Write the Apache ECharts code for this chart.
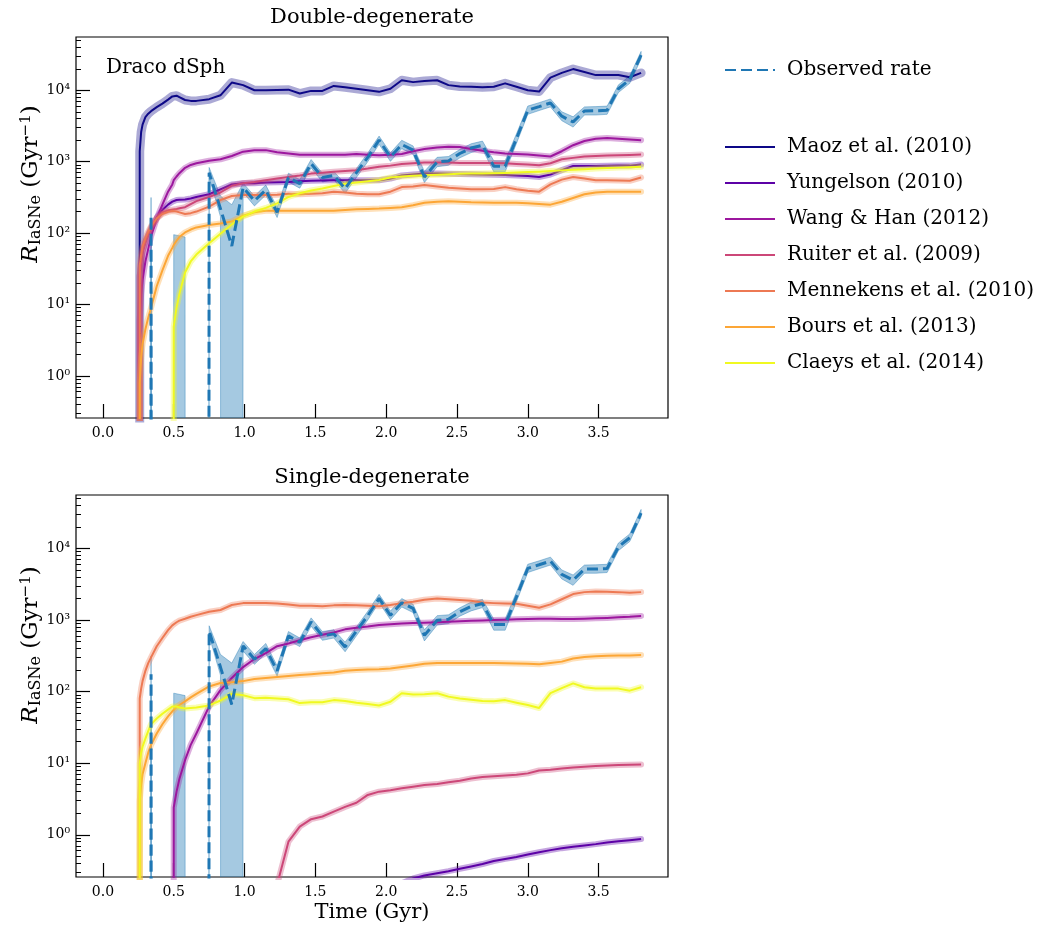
<!DOCTYPE html>
<html><head><meta charset="utf-8">
<script src="https://cdn.jsdelivr.net/npm/echarts@6/dist/echarts.min.js"></script>
<style>html,body{margin:0;padding:0;background:#fff}#c{width:1039px;height:930px}</style>
</head><body><div id="c"></div>
<script>
// ---------------- DATA ----------------
const xTicks = [0, 0.5, 1.0, 1.5, 2.0, 2.5, 3.0, 3.5];
const xTickLabels = ['0.0', '0.5', '1.0', '1.5', '2.0', '2.5', '3.0', '3.5'];
const yMajor = [1, 10, 100, 1000, 10000];
const yTickLabels = ['10⁰', '10¹', '10²', '10³', '10⁴'];
const yMinor = [0.3,0.4,0.5,0.6,0.7,0.8,0.9, 2,3,4,5,6,7,8,9, 20,30,40,50,60,70,80,90,
  200,300,400,500,600,700,800,900, 2000,3000,4000,5000,6000,7000,8000,9000, 20000,30000,40000,50000];

const modelNames = ['Maoz et al. (2010)', 'Yungelson (2010)', 'Wang & Han (2012)', 'Ruiter et al. (2009)',
  'Mennekens et al. (2010)', 'Bours et al. (2013)', 'Claeys et al. (2014)'];
const obsName = 'Observed rate';
const panelTitles = ['Double-degenerate', 'Single-degenerate'];
const xTitle = 'Time (Gyr)';
const galaxyLabel = 'Draco dSph';

// observed rate (time grid in Gyr)
const obsTime = [
  0.26, 0.34, 0.42, 0.50, 0.58, 0.66, 0.75, 0.83, 0.91, 0.99,
  1.07, 1.15, 1.23, 1.31, 1.39, 1.47, 1.55, 1.63, 1.71, 1.79,
  1.87, 1.95, 2.03, 2.11, 2.19, 2.27, 2.36, 2.44, 2.52, 2.60,
  2.68, 2.76, 2.84, 2.92, 3.00, 3.08, 3.16, 3.24, 3.32, 3.40,
  3.48, 3.56, 3.64, 3.72, 3.80];
const obsRate = [
  0, 175, 0, 0, 0, 0, 700, 220, 66, 435,
  283, 400, 195, 600, 490, 940, 600, 640, 420, 700,
  1150, 2000, 1160, 1740, 1450, 610, 990, 1025, 1300, 1550,
  1700, 863, 863, 2100, 5250, 5900, 6640, 4330, 3600, 5130,
  5150, 5250, 10500, 14100, 31000];
const obsLo = [
  0, 100, 0, 0, 0, 0, 600, 170, 0, 370,
  240, 340, 165, 520, 425, 820, 520, 560, 360, 600,
  1000, 1750, 1010, 1520, 1270, 510, 850, 890, 1130, 1340,
  1490, 720, 720, 1800, 4600, 5200, 5850, 3750, 3050, 4500,
  4500, 4600, 9300, 12500, 27500];
const obsHi = [
  0, 315, 0, 95, 88, 0, 830, 330, 250, 500,
  330, 470, 230, 690, 560, 1070, 690, 730, 490, 800,
  1320, 2280, 1330, 1990, 1660, 730, 1150, 1180, 1480, 1780,
  1940, 1030, 1030, 2450, 6000, 6700, 7550, 5000, 4250, 5850,
  5900, 6000, 11900, 15900, 35000];

// model time grid (Gyr)
const modelTime = [
  0.25, 0.26, 0.27, 0.28, 0.30, 0.32, 0.34, 0.38, 0.42, 0.46, 0.49, 0.50, 0.52, 0.54, 0.58, 0.62, 0.66,
  0.75, 0.83, 0.91, 0.99, 1.07, 1.15, 1.23, 1.31, 1.39, 1.47,
  1.55, 1.63, 1.71, 1.79, 1.87, 1.95, 2.03, 2.11, 2.19, 2.27,
  2.36, 2.44, 2.52, 2.60, 2.68, 2.76, 2.84, 2.92, 3.00, 3.08,
  3.16, 3.24, 3.32, 3.40, 3.48, 3.56, 3.64, 3.72, 3.80];

// Double-degenerate models
const ddMaoz = [
  0, 1400, 2600, 3300, 4200, 4700, 5100, 5800, 6500, 7400, 8200, 8500, 8400, 8000, 7300, 7100, 7100,
  7500, 8500, 12800, 11800, 10000, 10000, 10100, 10200, 9000, 9800,
  9800, 11500, 11000, 10500, 10000, 9500, 10500, 13800, 13000, 13500,
  13800, 11800, 11300, 11200, 11000, 11200, 12500, 11200, 10000, 9600,
  15000, 17500, 19800, 18000, 16300, 16300, 16300, 15200, 17500];
const ddYung = [
  0, 25, 40, 55, 75, 95, 115, 165, 210, 250, 275, 285, 290, 292, 295, 305, 320,
  350, 410, 480, 500, 500, 510, 515, 520, 530, 540,
  545, 550, 550, 550, 550, 550, 580, 640, 660, 680,
  680, 675, 670, 665, 660, 655, 650, 640, 630, 610,
  660, 760, 870, 870, 870, 875, 880, 880, 910];
const ddWang = [
  0, 6, 14, 22, 40, 60, 90, 160, 250, 380, 480, 550, 620, 690, 820, 900, 950,
  1030, 1080, 1200, 1380, 1450, 1450, 1350, 1300, 1250, 1250,
  1250, 1250, 1250, 1280, 1250, 1230, 1250, 1280, 1400, 1500,
  1580, 1620, 1600, 1500, 1420, 1350, 1300, 1280, 1260, 1220,
  1180, 1400, 1700, 1950, 2100, 2150, 2100, 2050, 2000];
const ddRuit = [
  0, 25, 40, 55, 75, 95, 120, 160, 195, 208, 213, 215, 218, 222, 230, 255, 280,
  320, 370, 460, 500, 520, 550, 580, 610, 640, 680,
  700, 720, 740, 760, 800, 850, 880, 930, 950, 970,
  970, 970, 960, 960, 960, 955, 950, 930, 910, 890,
  950, 1080, 1130, 1180, 1200, 1220, 1230, 1240, 1260];
const ddMenn = [
  0, 35, 50, 65, 85, 105, 125, 160, 185, 198, 203, 205, 200, 195, 185, 190, 200,
  235, 290, 330, 340, 340, 340, 345, 355, 350, 355,
  360, 380, 370, 355, 350, 350, 380, 440, 450, 470,
  450, 430, 420, 410, 410, 415, 440, 410, 390, 380,
  480, 560, 610, 580, 550, 550, 545, 540, 600];
const ddBours = [
  0, 0.8, 1.8, 2.8, 4.5, 6.5, 9, 18, 30, 48, 62, 68, 78, 88, 102, 112, 120,
  130, 136, 145, 175, 195, 205, 205, 205, 205, 205,
  205, 205, 210, 215, 218, 220, 225, 230, 245, 265,
  275, 278, 275, 270, 268, 265, 265, 265, 262, 255,
  250, 275, 310, 350, 370, 378, 380, 380, 380];
const ddClaeys = [
  0, 0, 0, 0, 0, 0, 0, 0, 0, 0, 0, 4.9, 9, 14, 28, 40, 50,
  72, 98, 132, 170, 200, 225, 260, 320, 360, 395,
  420, 455, 490, 510, 530, 555, 600, 620, 635, 645,
  655, 665, 675, 680, 685, 690, 695, 705, 715, 725,
  740, 755, 770, 785, 800, 815, 825, 835, 850];

// Single-degenerate models (no Maoz curve is visible in this panel)
const sdMaoz = null;
const sdYung = [
  0, 0, 0, 0, 0, 0, 0, 0, 0, 0, 0, 0, 0, 0, 0, 0, 0,
  0, 0, 0, 0.01, 0.015, 0.02, 0.03, 0.04, 0.05, 0.06,
  0.07, 0.08, 0.09, 0.11, 0.13, 0.15, 0.18, 0.21, 0.245, 0.27,
  0.29, 0.31, 0.335, 0.36, 0.39, 0.43, 0.46, 0.49, 0.53, 0.57,
  0.61, 0.65, 0.68, 0.71, 0.74, 0.78, 0.81, 0.84, 0.87];
const sdWang = [
  0, 0, 0, 0, 0, 0, 0, 0, 0, 0, 0, 2.4, 4, 6, 11, 18, 26,
  62, 105, 155, 220, 285, 345, 430, 470, 520, 575,
  620, 670, 740, 780, 810, 850, 870, 890, 905, 915,
  930, 945, 960, 975, 985, 1000, 1010, 1020, 1030, 1040,
  1040, 1035, 1030, 1040, 1055, 1070, 1090, 1110, 1140];
const sdRuit = [
  0, 0, 0, 0, 0, 0, 0, 0, 0, 0, 0, 0, 0, 0, 0, 0, 0,
  0, 0, 0, 0, 0, 0, 0.2, 0.8, 1.3, 1.65,
  1.8, 2.1, 2.45, 2.8, 3.6, 4.0, 4.2, 4.45, 4.7, 4.95,
  5.1, 5.4, 5.7, 6.1, 6.4, 6.55, 6.7, 6.9, 7.2, 7.9,
  8.1, 8.4, 8.7, 8.9, 9.1, 9.3, 9.4, 9.5, 9.6];
const sdMenn = [
  0, 80, 110, 140, 195, 250, 300, 430, 560, 720, 840, 880, 930, 980, 1040, 1110, 1170,
  1300, 1380, 1620, 1720, 1730, 1730, 1700, 1650, 1580, 1580,
  1560, 1600, 1620, 1600, 1580, 1560, 1620, 1720, 1800, 1920,
  2000, 1950, 1900, 1850, 1750, 1720, 1700, 1680, 1580, 1480,
  1650, 1950, 2300, 2450, 2500, 2480, 2450, 2400, 2450];
const sdBours = [
  0, 3, 5, 7, 10, 14, 18, 26, 35, 45, 53, 56, 61, 65, 73, 83, 93,
  118, 132, 135, 140, 150, 155, 160, 165, 170, 175,
  180, 185, 195, 200, 203, 205, 210, 220, 232, 245,
  250, 250, 250, 250, 250, 250, 248, 246, 244, 240,
  250, 262, 290, 305, 312, 316, 318, 320, 325];
const sdClaeys = [
  0, 9.8, 14, 17, 22, 28, 35, 42, 49, 56, 62, 64, 62, 60, 58, 59, 60,
  64, 75, 93, 89, 81, 82, 80, 78, 69, 71,
  71, 76, 74, 70, 67, 64, 72, 95, 91, 92,
  95, 85, 80, 77, 74, 73, 76, 70, 65, 59,
  95, 112, 130, 115, 110, 110, 110, 103, 115];

// ---------------- STYLE ----------------
const FONT = "'DejaVu Serif', 'Liberation Serif', serif";
const modelColors = ['#0d0887', '#5c01a6', '#9c179e', '#cc4778', '#ed7953', '#fca636', '#f0f921'];
const modelBandWidth = [9, 6, 6, 6, 6, 6, 6];
const obsColor = '#1f77b4';
const ZERO = 1e-300; // stands for 0 on the log axis (drawn far below the frame, as matplotlib does)
const yMin = 0.257, yMax = 55700;
const grids = [
  {left: 76, top: 37, width: 592, height: 381},
  {left: 76, top: 495, width: 592, height: 382}
];
const panelModels = [
  [ddMaoz, ddYung, ddWang, ddRuit, ddMenn, ddBours, ddClaeys],
  [sdMaoz, sdYung, sdWang, sdRuit, sdMenn, sdBours, sdClaeys]
];

const pos = v => (v > 0 ? v : ZERO);
const pairs = (ts, vs) => ts.map((t, i) => [t, pos(vs[i])]);

const series = [];
panelModels.forEach((models, p) => {
  const axes = {xAxisIndex: p, yAxisIndex: p * 3};
  models.forEach((vals, m) => {
    if (!vals) return;
    const d = pairs(modelTime, vals);
    series.push(Object.assign({type: 'line', name: modelNames[m] + ' band', data: d, symbol: 'none', silent: true,
      lineStyle: {color: modelColors[m], width: modelBandWidth[m], opacity: 0.35, join: 'round', cap: 'round'}}, axes));
    series.push(Object.assign({type: 'line', name: modelNames[m], data: d, symbol: 'none',
      itemStyle: {color: modelColors[m]},
      lineStyle: {color: modelColors[m], width: 2, join: 'round'}}, axes));
  });
  // observed-rate uncertainty band: one polygon, upper edge forward, lower edge back
  series.push(Object.assign({type: 'custom', name: 'obs band', data: [[obsTime[0], pos(obsHi[0])]], silent: true, clip: true,
    renderItem: (params, api) => {
      const up = obsTime.map((t, i) => api.coord([t, pos(obsHi[i])]));
      const dn = obsTime.map((t, i) => api.coord([t, pos(obsLo[i])])).reverse();
      return {type: 'polygon', shape: {points: up.concat(dn)},
        style: {fill: 'rgba(31,119,180,0.4)', stroke: 'rgba(31,119,180,0.4)', lineWidth: 1}};
    }}, axes));
  series.push(Object.assign({type: 'line', name: obsName, data: pairs(obsTime, obsRate), symbol: 'none',
    itemStyle: {color: obsColor},
    lineStyle: {color: obsColor, width: 3, type: [11, 5]}}, axes));
});

const labelFmtX = v => { const k = xTicks.findIndex(t => Math.abs(t - v) < 1e-6); return k >= 0 ? xTickLabels[k] : ''; };
const labelFmtY = v => { const k = yMajor.findIndex(t => Math.abs(t - v) / t < 1e-6); return k >= 0 ? yTickLabels[k] : ''; };

const xAxis = [0, 1].map(g => ({
  type: 'value', gridIndex: g, min: -0.19, max: 3.99, position: 'bottom',
  axisLine: {show: false, onZero: false}, splitLine: {show: false},
  axisTick: {show: true, inside: true, length: 14, customValues: xTicks, lineStyle: {color: '#000', width: 1.2}},
  axisLabel: {show: true, customValues: xTicks, formatter: labelFmtX, fontFamily: FONT, fontSize: 14, color: '#000', margin: 8}
}));
const logAxis = (g, extra) => Object.assign({
  type: 'log', logBase: 10, gridIndex: g, min: yMin, max: yMax, position: 'left', offset: 0,
  axisLine: {show: false, onZero: false}, splitLine: {show: false}, minorTick: {show: false}
}, extra);
const yAxis = [];
[0, 1].forEach(g => {
  // labels
  yAxis.push(logAxis(g, {axisTick: {show: false},
    axisLabel: {show: true, customValues: yMajor, formatter: labelFmtY, fontFamily: FONT, fontSize: 14, color: '#000', margin: 6}}));
  // minor ticks
  yAxis.push(logAxis(g, {axisLabel: {show: false},
    axisTick: {show: true, inside: true, length: 5, customValues: yMinor, lineStyle: {color: '#000', width: 1}}}));
  // major ticks
  yAxis.push(logAxis(g, {axisLabel: {show: false},
    axisTick: {show: true, inside: true, length: 14, customValues: yMajor, lineStyle: {color: '#000', width: 1.2}}}));
});

const richY = {
  i: {fontFamily: FONT, fontSize: 23, fontStyle: 'italic', verticalAlign: 'middle'},
  s: {fontFamily: FONT, fontSize: 16, padding: [10, 0, 0, 0], verticalAlign: 'middle'},
  n: {fontFamily: FONT, fontSize: 23, verticalAlign: 'middle'},
  p: {fontFamily: FONT, fontSize: 15, padding: [0, 0, 10, 0], verticalAlign: 'middle'}
};
const yLabelText = '{i|R}{s|IaSNe}{n| (Gyr}{p|−1}{n|)}';
const txt = (x, y, text, size, align) => ({type: 'text', x: x, y: y, silent: true,
  style: {text: text, font: size + 'px ' + FONT, fill: '#000', align: align || 'center', verticalAlign: 'middle'}});
const yLab = y => ({type: 'text', x: 31, y: y, rotation: Math.PI / 2, silent: true,
  style: {text: yLabelText, rich: richY, fill: '#000', align: 'center', verticalAlign: 'middle', font: '23px ' + FONT}});

const legendCommon = {orient: 'vertical', left: 719, itemWidth: 50, itemHeight: 12, selectedMode: false,
  itemStyle: {opacity: 0},
  textStyle: {fontFamily: FONT, fontSize: 20, color: '#000', padding: [0, 0, 0, 7]}};

const option = {
  animation: false,
  backgroundColor: '#fff',
  grid: grids.map(g => Object.assign({show: true, borderColor: '#000', borderWidth: 1.2, backgroundColor: 'transparent'}, g)),
  xAxis: xAxis,
  yAxis: yAxis,
  legend: [
    Object.assign({data: [obsName], top: 55}, legendCommon),
    Object.assign({data: modelNames, top: 132, itemGap: 16}, legendCommon)
  ],
  graphic: [
    txt(372, 18, panelTitles[0], 21),
    txt(372, 478, panelTitles[1], 21),
    txt(372, 913, xTitle, 21),
    txt(106, 68, galaxyLabel, 20, 'left'),
    yLab(184),
    yLab(645)
  ],
  series: series
};

const chart = echarts.init(document.getElementById('c'), null, {renderer: 'canvas'});
chart.setOption(option);
</script>
</body></html>
